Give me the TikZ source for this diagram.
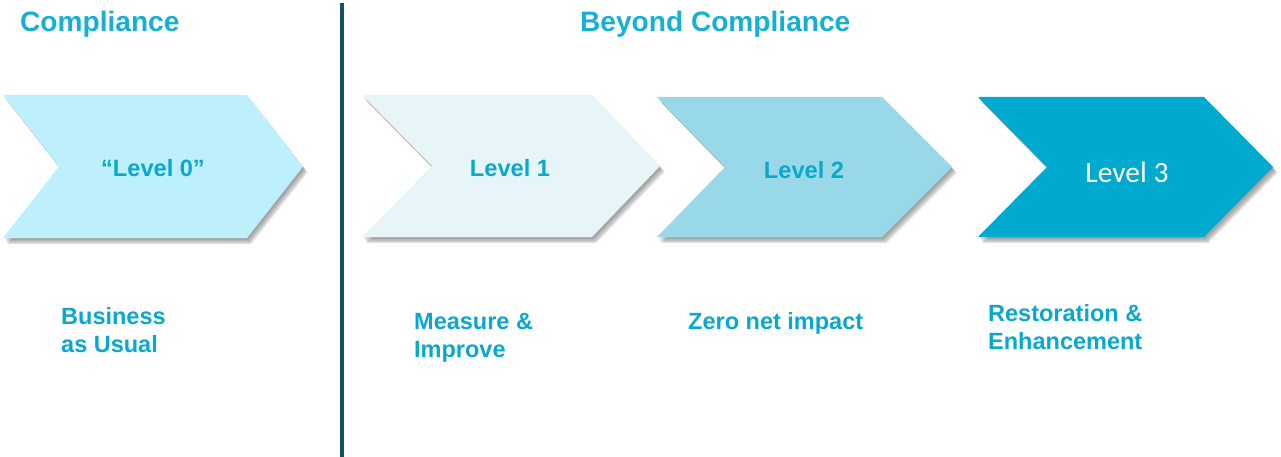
\documentclass[tikz,border=0pt]{standalone}
\usepackage{fontspec}
\setmainfont{Liberation Sans}
\newfontfamily\calibfont{Carlito}
\definecolor{txtblue}{HTML}{0AA8CC}
\definecolor{titleblue}{HTML}{16B0D2}
\definecolor{divline}{HTML}{0B5566}
\definecolor{fillzero}{HTML}{BDF0FC}
\definecolor{fillone}{HTML}{E8F5F8}
\definecolor{filltwo}{HTML}{99D8E8}
\definecolor{fillthree}{HTML}{00A9CE}
\tikzset{
  titletext/.style={font=\fontsize{28.1}{32}\selectfont\bfseries, text=titleblue, inner sep=0pt, anchor=base west},
  leveltext/.style={font=\fontsize{23.6}{27}\selectfont\bfseries, text=txtblue, inner sep=0pt},
  labeltext/.style={font=\fontsize{23.5}{28}\selectfont\bfseries, text=txtblue, inner sep=0pt, align=left, anchor=west},
  shadowlayer/.style={fill=black, opacity=0.10, draw=none},
}
% #1 left x, #2 top-right x, #3 tip x, #4 notch x, #5 top y, #6 bottom y, #7 colour
\newcommand{\mychev}[7]{%
  \pgfmathsetmacro{\ymid}{(#5+#6)/2}%
  \foreach \dx/\dy in {1.5/2,2.5/3.5,3.5/5,4.5/6}{%
    \fill[shadowlayer, shift={(\dx,\dy)}] (#1,#5) -- (#2,#5) -- (#3,\ymid) -- (#2,#6) -- (#1,#6) -- (#4,\ymid) -- cycle;
  }%
  \fill[#7] (#1,#5) -- (#2,#5) -- (#3,\ymid) -- (#2,#6) -- (#1,#6) -- (#4,\ymid) -- cycle;
}
\begin{document}
\begin{tikzpicture}[x=1pt,y=-1pt]
\useasboundingbox (0,0) rectangle (1281,457);
% chevrons
\mychev{3}{247}{303}{59}{95}{238}{fillzero}
\mychev{362}{592}{660}{432}{95}{237}{fillone}
\mychev{657}{882}{952}{725}{97}{237}{filltwo}
\mychev{978}{1204}{1273}{1047}{97}{237}{fillthree}
% divider
\coordinate (dtop) at (342,3);
\coordinate (dbot) at (342,457);
\draw[divline, line width=3.2pt] (dtop) -- (dbot);
% titles
\node[titletext] (tcomp) at (20,32) {Compliance};
\node[titletext] (tbeyond) at (580,32) {Beyond Compliance};
% level texts
\node[leveltext] (l0) at (153,168) {“Level 0”};
\node[leveltext] (l1) at (510,168) {Level 1};
\node[leveltext] (l2) at (804,170) {Level 2};
\node[font=\fontsize{29.5}{33}\selectfont\calibfont, text=white, inner sep=0pt] (l3) at (1127,172) {Level 3};
% bottom labels
\node[labeltext] (b0) at (61,330) {Business\\as Usual};
\node[labeltext] (b1) at (414,338) {Measure \&\\Improve};
\node[labeltext] (b2) at (688,323) {Zero net impact};
\node[labeltext] (b3) at (988,327) {Restoration \&\\Enhancement};
\end{tikzpicture}
\end{document}
